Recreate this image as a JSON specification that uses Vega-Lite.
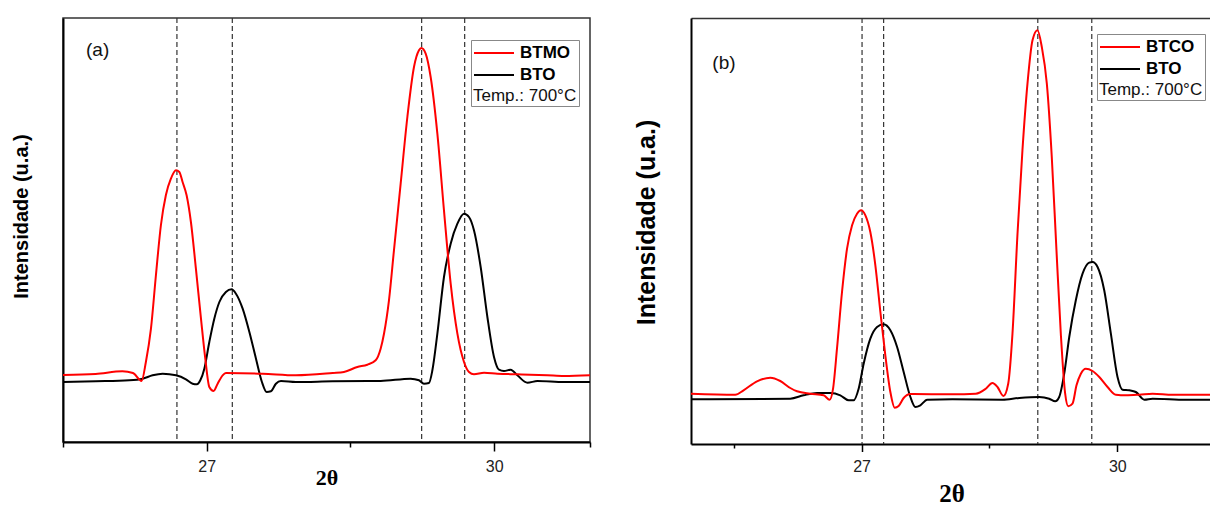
{
  "$schema": "https://vega.github.io/schema/vega-lite/v6.json",
  "padding": {"left": 10, "top": 16, "right": 0, "bottom": 0},
  "background": "white",
  "config": {"font": "Liberation Sans", "view": {"stroke": null}, "axis": {"grid": false}},
  "spacing": 39,
  "resolve": {"scale": {"x": "independent", "y": "independent", "color": "independent"}, "legend": {"color": "independent"}},
  "datasets": {
    "a_lines": [
      {"s":"BTO","x":25.5,"I":60},{"s":"BTO","x":25.843,"I":60.7},{"s":"BTO","x":26.192,"I":61.7},{"s":"BTO","x":26.331,"I":63.3},{"s":"BTO","x":26.435,"I":66.7},{"s":"BTO","x":26.54,"I":68.3},{"s":"BTO","x":26.679,"I":66.7},{"s":"BTO","x":26.783,"I":62.7},{"s":"BTO","x":26.853,"I":58.3},{"s":"BTO","x":26.898,"I":57.7},{"s":"BTO","x":26.933,"I":61.7},{"s":"BTO","x":26.975,"I":73.3},{"s":"BTO","x":27.027,"I":100},{"s":"BTO","x":27.079,"I":123.3},{"s":"BTO","x":27.132,"I":140},{"s":"BTO","x":27.2,"I":150},{"s":"BTO","x":27.26,"I":152.7},{"s":"BTO","x":27.305,"I":148.3},{"s":"BTO","x":27.375,"I":133.3},{"s":"BTO","x":27.445,"I":110},{"s":"BTO","x":27.514,"I":83.3},{"s":"BTO","x":27.576,"I":60},{"s":"BTO","x":27.625,"I":50},{"s":"BTO","x":27.67,"I":50.7},{"s":"BTO","x":27.722,"I":58.3},{"s":"BTO","x":27.775,"I":61},{"s":"BTO","x":27.931,"I":60},{"s":"BTO","x":28.314,"I":60.7},{"s":"BTO","x":28.815,"I":61},{"s":"BTO","x":29.128,"I":63.3},{"s":"BTO","x":29.215,"I":61.7},{"s":"BTO","x":29.267,"I":58.3},{"s":"BTO","x":29.319,"I":59},{"s":"BTO","x":29.355,"I":71.7},{"s":"BTO","x":29.407,"I":108.3},{"s":"BTO","x":29.476,"I":165},{"s":"BTO","x":29.546,"I":198.3},{"s":"BTO","x":29.616,"I":218.3},{"s":"BTO","x":29.685,"I":228.3},{"s":"BTO","x":29.737,"I":225},{"s":"BTO","x":29.789,"I":211.7},{"s":"BTO","x":29.859,"I":175},{"s":"BTO","x":29.929,"I":125},{"s":"BTO","x":29.998,"I":85},{"s":"BTO","x":30.05,"I":72.3},{"s":"BTO","x":30.102,"I":71},{"s":"BTO","x":30.172,"I":72.3},{"s":"BTO","x":30.242,"I":66.7},{"s":"BTO","x":30.347,"I":59.3},{"s":"BTO","x":30.451,"I":61},{"s":"BTO","x":30.729,"I":60},{"s":"BTO","x":31.0,"I":60},
      {"s":"BTMO","x":25.5,"I":67},{"s":"BTMO","x":25.84,"I":68},{"s":"BTMO","x":26.12,"I":70.7},{"s":"BTMO","x":26.23,"I":69},{"s":"BTMO","x":26.32,"I":61},{"s":"BTMO","x":26.365,"I":80},{"s":"BTMO","x":26.418,"I":113.3},{"s":"BTMO","x":26.47,"I":167},{"s":"BTMO","x":26.522,"I":217},{"s":"BTMO","x":26.574,"I":247},{"s":"BTMO","x":26.626,"I":263.3},{"s":"BTMO","x":26.679,"I":271.7},{"s":"BTMO","x":26.714,"I":270},{"s":"BTMO","x":26.748,"I":260},{"s":"BTMO","x":26.79,"I":246.7},{"s":"BTMO","x":26.835,"I":220},{"s":"BTMO","x":26.887,"I":173.3},{"s":"BTMO","x":26.94,"I":123.3},{"s":"BTMO","x":26.985,"I":83.3},{"s":"BTMO","x":27.027,"I":55},{"s":"BTMO","x":27.072,"I":51},{"s":"BTMO","x":27.114,"I":58.3},{"s":"BTMO","x":27.166,"I":66.7},{"s":"BTMO","x":27.2,"I":69},{"s":"BTMO","x":27.584,"I":68.3},{"s":"BTMO","x":27.931,"I":66.7},{"s":"BTMO","x":28.314,"I":69},{"s":"BTMO","x":28.432,"I":70},{"s":"BTMO","x":28.572,"I":75},{"s":"BTMO","x":28.676,"I":77.3},{"s":"BTMO","x":28.763,"I":81.7},{"s":"BTMO","x":28.815,"I":93.3},{"s":"BTMO","x":28.85,"I":108.3},{"s":"BTMO","x":28.902,"I":141.7},{"s":"BTMO","x":28.954,"I":191.7},{"s":"BTMO","x":29.024,"I":258.3},{"s":"BTMO","x":29.094,"I":325},{"s":"BTMO","x":29.163,"I":375},{"s":"BTMO","x":29.215,"I":391.7},{"s":"BTMO","x":29.24,"I":394},{"s":"BTMO","x":29.285,"I":388.3},{"s":"BTMO","x":29.337,"I":365},{"s":"BTMO","x":29.407,"I":308.3},{"s":"BTMO","x":29.476,"I":231.7},{"s":"BTMO","x":29.546,"I":158.3},{"s":"BTMO","x":29.616,"I":108.3},{"s":"BTMO","x":29.685,"I":80},{"s":"BTMO","x":29.737,"I":70},{"s":"BTMO","x":29.789,"I":67.7},{"s":"BTMO","x":29.894,"I":69.3},{"s":"BTMO","x":30.033,"I":68.3},{"s":"BTMO","x":30.242,"I":67.7},{"s":"BTMO","x":30.555,"I":66.7},{"s":"BTMO","x":30.729,"I":66},{"s":"BTMO","x":31.0,"I":66.7}
    ],
    "b_lines": [
      {"s":"BTO","x":25.0,"I":44.7},{"s":"BTO","x":26.164,"I":45.3},{"s":"BTO","x":26.32,"I":48.7},{"s":"BTO","x":26.478,"I":51},{"s":"BTO","x":26.634,"I":51},{"s":"BTO","x":26.751,"I":48.7},{"s":"BTO","x":26.849,"I":43.7},{"s":"BTO","x":26.907,"I":43.7},{"s":"BTO","x":26.966,"I":55.3},{"s":"BTO","x":27.025,"I":80.3},{"s":"BTO","x":27.103,"I":105.3},{"s":"BTO","x":27.182,"I":117},{"s":"BTO","x":27.259,"I":119.7},{"s":"BTO","x":27.338,"I":113.7},{"s":"BTO","x":27.417,"I":97},{"s":"BTO","x":27.494,"I":72},{"s":"BTO","x":27.573,"I":47},{"s":"BTO","x":27.631,"I":37},{"s":"BTO","x":27.69,"I":38.7},{"s":"BTO","x":27.769,"I":44.3},{"s":"BTO","x":28.066,"I":44.7},{"s":"BTO","x":28.653,"I":44.3},{"s":"BTO","x":28.849,"I":46},{"s":"BTO","x":29.083,"I":47},{"s":"BTO","x":29.201,"I":45.3},{"s":"BTO","x":29.271,"I":42.7},{"s":"BTO","x":29.318,"I":47},{"s":"BTO","x":29.377,"I":70.3},{"s":"BTO","x":29.436,"I":107},{"s":"BTO","x":29.513,"I":143.7},{"s":"BTO","x":29.592,"I":170.3},{"s":"BTO","x":29.67,"I":181.3},{"s":"BTO","x":29.709,"I":182},{"s":"BTO","x":29.768,"I":177},{"s":"BTO","x":29.846,"I":153.7},{"s":"BTO","x":29.924,"I":110.3},{"s":"BTO","x":30.002,"I":67},{"s":"BTO","x":30.061,"I":54.3},{"s":"BTO","x":30.14,"I":53.7},{"s":"BTO","x":30.217,"I":52},{"s":"BTO","x":30.316,"I":44.3},{"s":"BTO","x":30.413,"I":45.3},{"s":"BTO","x":30.804,"I":44.3},{"s":"BTO","x":31.11,"I":44.3},
      {"s":"BTCO","x":25.0,"I":50.3},{"s":"BTCO","x":25.519,"I":49.3},{"s":"BTCO","x":25.616,"I":53.7},{"s":"BTCO","x":25.774,"I":62.7},{"s":"BTCO","x":25.93,"I":66.3},{"s":"BTCO","x":26.047,"I":63},{"s":"BTCO","x":26.164,"I":56},{"s":"BTCO","x":26.243,"I":52.7},{"s":"BTCO","x":26.399,"I":50.3},{"s":"BTCO","x":26.555,"I":48.7},{"s":"BTCO","x":26.626,"I":44.3},{"s":"BTCO","x":26.666,"I":55.3},{"s":"BTCO","x":26.712,"I":95.3},{"s":"BTCO","x":26.771,"I":152},{"s":"BTCO","x":26.83,"I":195.3},{"s":"BTCO","x":26.889,"I":218.7},{"s":"BTCO","x":26.947,"I":230.3},{"s":"BTCO","x":26.994,"I":233.7},{"s":"BTCO","x":27.045,"I":228.7},{"s":"BTCO","x":27.103,"I":212},{"s":"BTCO","x":27.162,"I":178.7},{"s":"BTCO","x":27.221,"I":132},{"s":"BTCO","x":27.279,"I":88.7},{"s":"BTCO","x":27.338,"I":52},{"s":"BTCO","x":27.389,"I":36.3},{"s":"BTCO","x":27.435,"I":38},{"s":"BTCO","x":27.494,"I":46},{"s":"BTCO","x":27.573,"I":50},{"s":"BTCO","x":28.066,"I":49.7},{"s":"BTCO","x":28.339,"I":50.3},{"s":"BTCO","x":28.457,"I":55.3},{"s":"BTCO","x":28.535,"I":61},{"s":"BTCO","x":28.594,"I":57},{"s":"BTCO","x":28.664,"I":48},{"s":"BTCO","x":28.72,"I":60.3},{"s":"BTCO","x":28.77,"I":110.3},{"s":"BTCO","x":28.829,"I":210.3},{"s":"BTCO","x":28.887,"I":293.7},{"s":"BTCO","x":28.946,"I":360.3},{"s":"BTCO","x":29.005,"I":403.7},{"s":"BTCO","x":29.063,"I":413.7},{"s":"BTCO","x":29.114,"I":397},{"s":"BTCO","x":29.173,"I":360.3},{"s":"BTCO","x":29.231,"I":287},{"s":"BTCO","x":29.286,"I":193.7},{"s":"BTCO","x":29.337,"I":110.3},{"s":"BTCO","x":29.388,"I":50.3},{"s":"BTCO","x":29.424,"I":37.7},{"s":"BTCO","x":29.474,"I":40.3},{"s":"BTCO","x":29.521,"I":58.7},{"s":"BTCO","x":29.572,"I":70.3},{"s":"BTCO","x":29.63,"I":75.3},{"s":"BTCO","x":29.709,"I":73},{"s":"BTCO","x":29.788,"I":67},{"s":"BTCO","x":29.885,"I":57},{"s":"BTCO","x":29.982,"I":49.3},{"s":"BTCO","x":30.1,"I":48.7},{"s":"BTCO","x":30.257,"I":49.3},{"s":"BTCO","x":30.413,"I":50.3},{"s":"BTCO","x":30.648,"I":49.3},{"s":"BTCO","x":31.11,"I":49.3}
    ],
    "a_rules": [{"x":26.689},{"x":27.267},{"x":29.243},{"x":29.692}],
    "b_rules": [{"x":27.006},{"x":27.259},{"x":29.067},{"x":29.70}],
    "a_text": [{"t":"(a)","x":25.74,"I":392}],
    "b_text": [{"t":"(b)","x":25.25,"I":381}]
  },
  "hconcat": [
    {
      "width": 527,
      "height": 424,
      "view": {"stroke": "#333", "strokeWidth": 1.5},
      "resolve": {"axis": {"x": "independent"}},
      "layer": [
        {
          "data": {"name": "a_rules"},
          "mark": {"type": "rule", "color": "#333", "strokeWidth": 1.2, "strokeDash": [5, 3]},
          "encoding": {
            "x": {"field": "x", "type": "quantitative", "axis": {"orient": "bottom", "values": [25.5, 28.5, 31], "tickSize": 5, "tickWidth": 1.5, "tickColor": "#000", "labels": false, "domain": false, "title": null}}
          }
        },
        {
          "data": {"name": "a_lines"},
          "mark": {"type": "line", "strokeWidth": 2, "interpolate": "monotone"},
          "encoding": {
            "x": {"field": "x", "type": "quantitative", "scale": {"domain": [25.5, 31], "nice": false, "zero": false},
                  "axis": {"orient": "bottom", "values": [27, 30], "tickSize": 9, "tickWidth": 1.5, "tickColor": "#000", "domain": true, "domainColor": "#000", "domainWidth": 2, "labelFontSize": 16, "labelColor": "#222", "labelPadding": 7, "labelFont": "Liberation Sans", "title": "2θ", "titleFont": "Liberation Serif", "titleFontSize": 22, "titleFontWeight": "bold", "titleColor": "#000", "titleY": 25, "titleBaseline": "top"}},
            "y": {"field": "I", "type": "quantitative", "scale": {"domain": [0, 424], "nice": false, "zero": false},
                  "axis": {"ticks": false, "labels": false, "domain": true, "domainColor": "#000", "domainWidth": 2, "title": "Intensidade (u.a.)", "titleFont": "Liberation Sans", "titleFontSize": 20, "titleFontWeight": "bold", "titleColor": "#000", "titlePadding": 31.5, "titleY": 198}},
            "color": {"field": "s", "type": "nominal", "scale": {"domain": ["BTMO", "BTO"], "range": ["#ff0000", "#000000"]},
                      "legend": {"orient": "none", "legendX": 408, "legendY": 22, "title": "Temp.: 700°C", "titleOrient": "bottom", "titleAnchor": "start", "titleFontSize": 17, "titleFontWeight": "normal", "titleColor": "#111", "titlePadding": 2, "titleFont": "Liberation Sans", "labelFont": "Liberation Sans", "labelFontSize": 17, "labelFontWeight": "bold", "labelColor": "#000", "labelOffset": 5, "symbolType": "stroke", "symbolSize": 1600, "symbolStrokeWidth": 2, "clipHeight": 22, "rowPadding": 0, "padding": 2, "strokeColor": "#888", "fillColor": "white", "cornerRadius": 0}}
          }
        },
        {
          "data": {"name": "a_text"},
          "mark": {"type": "text", "align": "left", "baseline": "middle", "fontSize": 19, "font": "Liberation Sans", "color": "#111"},
          "encoding": {
            "x": {"field": "x", "type": "quantitative", "axis": null},
            "y": {"field": "I", "type": "quantitative"},
            "text": {"field": "t"}
          }
        }
      ]
    },
    {
      "width": 521,
      "height": 426,
      "resolve": {"axis": {"x": "independent"}},
      "layer": [
        {
          "data": {"name": "b_rules"},
          "mark": {"type": "rule", "color": "#333", "strokeWidth": 1.2, "strokeDash": [5, 3]},
          "encoding": {
            "x": {"field": "x", "type": "quantitative", "axis": {"orient": "top", "domain": true, "domainColor": "#333", "domainWidth": 1.5, "ticks": false, "labels": false, "title": null}}
          }
        },
        {
          "data": {"name": "b_lines"},
          "mark": {"type": "line", "strokeWidth": 2, "interpolate": "monotone"},
          "encoding": {
            "x": {"field": "x", "type": "quantitative", "scale": {"domain": [25, 31.11], "nice": false, "zero": false},
                  "axis": {"orient": "bottom", "values": [27, 30], "tickSize": 7.5, "tickWidth": 1.5, "tickColor": "#000", "domain": true, "domainColor": "#000", "domainWidth": 2, "labelFontSize": 16, "labelColor": "#222", "labelPadding": 7, "labelFont": "Liberation Sans", "title": "2θ", "titleFont": "Liberation Serif", "titleFontSize": 25, "titleFontWeight": "bold", "titleColor": "#000", "titleY": 37, "titleBaseline": "top"}},
            "y": {"field": "I", "type": "quantitative", "scale": {"domain": [0, 426], "nice": false, "zero": false},
                  "axis": {"ticks": false, "labels": false, "domain": true, "domainColor": "#000", "domainWidth": 2, "title": "Intensidade (u.a.)", "titleFont": "Liberation Sans", "titleFontSize": 25, "titleFontWeight": "bold", "titleColor": "#000", "titlePadding": 32, "titleY": 204}},
            "color": {"field": "s", "type": "nominal", "scale": {"domain": ["BTCO", "BTO"], "range": ["#ff0000", "#000000"]},
                      "legend": {"orient": "none", "legendX": 406, "legendY": 16, "title": "Temp.: 700°C", "titleOrient": "bottom", "titleAnchor": "start", "titleFontSize": 17, "titleFontWeight": "normal", "titleColor": "#111", "titlePadding": 2, "titleFont": "Liberation Sans", "labelFont": "Liberation Sans", "labelFontSize": 17, "labelFontWeight": "bold", "labelColor": "#000", "labelOffset": 5, "symbolType": "stroke", "symbolSize": 1600, "symbolStrokeWidth": 2, "clipHeight": 22, "rowPadding": 0, "padding": 2, "strokeColor": "#888", "fillColor": "white", "cornerRadius": 0}}
          }
        },
        {
          "data": {"name": "b_text"},
          "mark": {"type": "text", "align": "left", "baseline": "middle", "fontSize": 19, "font": "Liberation Sans", "color": "#111"},
          "encoding": {
            "x": {"field": "x", "type": "quantitative", "axis": {"orient": "bottom", "values": [25.5, 28.5], "tickSize": 4, "tickWidth": 1.5, "tickColor": "#000", "labels": false, "domain": false, "title": null}},
            "y": {"field": "I", "type": "quantitative"},
            "text": {"field": "t"}
          }
        }
      ]
    }
  ]
}
